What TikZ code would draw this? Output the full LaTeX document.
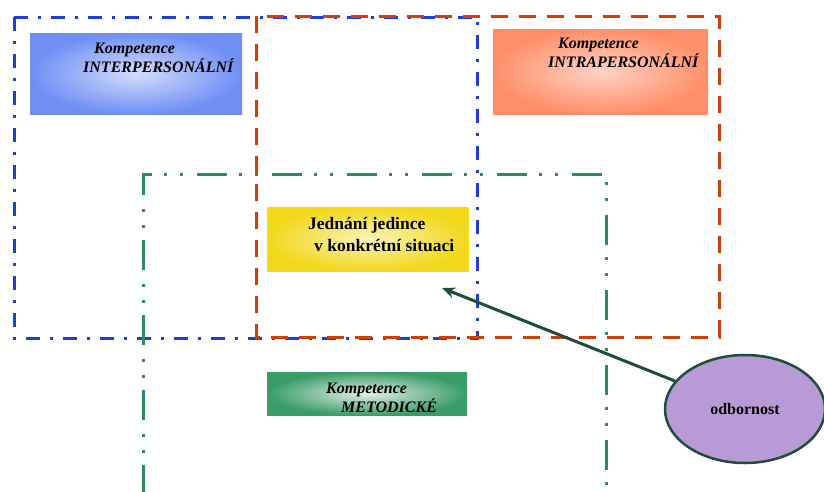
\documentclass[tikz,border=0pt]{standalone}
\usepackage{fontspec}
\setmainfont{Liberation Serif}
\usetikzlibrary{arrows.meta,shapes.geometric}
\definecolor{interblue}{HTML}{1E3FD6}
\definecolor{intrared}{HTML}{CF3F0E}
\definecolor{metodgreen}{HTML}{2E8B5A}
\definecolor{odborline}{HTML}{1F4D3A}
\definecolor{odborfill}{HTML}{B89BD6}
\definecolor{interbox}{HTML}{6F8FF5}
\definecolor{intrabox}{HTML}{FF8F6B}
\definecolor{jednanibox}{HTML}{F2D81A}
\definecolor{metodbox}{HTML}{3A9C68}

\begin{document}
\begin{tikzpicture}[x=1pt,y=-1pt,>=Stealth,
  box/.style={draw=none,rectangle,shading=radial,inner sep=0pt},
  ktext/.style={font=\fontsize{16}{19}\selectfont\bfseries\itshape,align=left,inner sep=0pt,anchor=north west},
  frame/.style={line width=3pt,line cap=butt}]
\useasboundingbox (0,0) rectangle (824,491);
% frames
\draw[frame,interblue,dash pattern=on 14pt off 10pt on 3pt off 10pt] (14,17) rectangle (477,338);
\draw[frame,intrared,dash pattern=on 17pt off 11pt] (256,16) rectangle (719,337);
\draw[frame,metodgreen,dash pattern=on 30pt off 12pt on 3pt off 13pt on 3pt off 14pt] (143,495) |- (606,174) -- (606,495);
% boxes
\node[box,minimum width=212pt,minimum height=81pt,inner color=interbox!30!white,outer color=interbox] (inter) at (136,73.5) {};
\node[box,minimum width=215pt,minimum height=85pt,inner color=intrabox!40!white,outer color=intrabox] (intra) at (600.5,71.5) {};
\node[box,minimum width=201pt,minimum height=64pt,inner color=jednanibox!30!white,outer color=jednanibox] (jednani) at (368,239) {};
\node[box,minimum width=200pt,minimum height=43pt,inner color=metodbox!15!white,outer color=metodbox] (metod) at (367,393.5) {};
\node[ktext] (intertxt) at (83,43) {\hspace*{11pt}Kompetence\\INTERPERSONÁLNÍ};
\node[ktext] (intratxt) at (548,38) {\hspace*{10pt}Kompetence\\INTRAPERSONÁLNÍ};
\node[ktext] (metodtxt) at (326,383) {Kompetence\\\hspace*{15pt}METODICKÉ};
\node[ktext,font=\fontsize{17.5}{22}\selectfont\bfseries] (jednanitxt) at (308,217) {Jednání jedince\\\hspace*{6pt}v konkrétní situaci};
% odbornost
\node[draw=odborline,fill=odborfill,ellipse,line width=2.5pt,minimum width=160pt,minimum height=108pt,inner sep=0pt,font=\fontsize{16}{19}\selectfont\bfseries] (odbor) at (745,409) {odbornost};
\coordinate (tip) at (442,288);
\draw[line width=3pt,color=odborline,-{Stealth[length=13pt,width=11pt]}] (odbor) -- (tip);
\end{tikzpicture}
\end{document}
